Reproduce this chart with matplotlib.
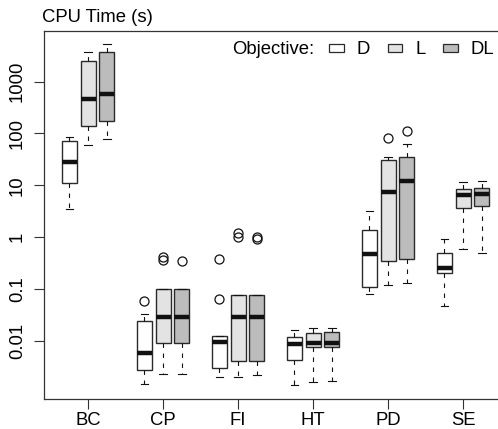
import matplotlib
matplotlib.use("Agg")
import matplotlib.pyplot as plt
from matplotlib.patches import Patch

plt.rcParams['font.family'] = ['Liberation Sans', 'DejaVu Sans']
plt.rcParams['font.size'] = 13.3

groups = ["BC", "CP", "FI", "HT", "PD", "SE"]
objectives = ["D", "L", "DL"]
fills = {"D": "#ffffff", "L": "#e3e3e3", "DL": "#bcbcbc"}

# five-number summaries: whislo, q1, med, q3, whishi
d_stats = [
    [3.5, 11, 27.6, 71, 86],
    [0.00145, 0.00267, 0.0057, 0.024, 0.032],
    [0.002, 0.0029, 0.0095, 0.0123, 0.0123],
    [0.00139, 0.0042, 0.0086, 0.0116, 0.0158],
    [0.079, 0.107, 0.48, 1.36, 3.2],
    [0.047, 0.2, 0.256, 0.5, 0.9],
]
d_fliers = [[], [0.058], [0.063, 0.37], [], [], []]

l_stats = [
    [60, 137, 461, 2460, 3780],
    [0.00224, 0.009, 0.029, 0.1, 0.1],
    [0.002, 0.0041, 0.029, 0.076, 0.076],
    [0.0016, 0.0076, 0.0091, 0.0142, 0.0178],
    [0.118, 0.34, 7.4, 30.6, 35.5],
    [0.6, 3.7, 6.4, 8.3, 11.4],
]
l_fliers = [[], [0.36, 0.41], [1.01, 1.18], [], [80], []]

dl_stats = [
    [77, 176, 577, 3780, 5250],
    [0.00224, 0.009, 0.029, 0.1, 0.1],
    [0.0022, 0.0041, 0.029, 0.076, 0.076],
    [0.00168, 0.0075, 0.0089, 0.0144, 0.0175],
    [0.128, 0.37, 12.2, 35.5, 62],
    [0.5, 4.0, 6.7, 8.9, 11.9],
]
dl_fliers = [[], [0.35], [0.9, 1.01], [], [111], []]

ytick_vals = [0.01, 0.1, 1, 10, 100, 1000]
ytick_labels = ["0.01", "0.1", "1", "10", "100", "1000"]

all_stats = {"D": (d_stats, d_fliers), "L": (l_stats, l_fliers), "DL": (dl_stats, dl_fliers)}
offsets = {"D": -0.25, "L": 0.0, "DL": 0.25}

fig = plt.figure(figsize=(4.98, 4.29), dpi=100)
ax = fig.add_axes([0.0884, 0.0699, 0.93, 0.8578])

edge = "#2a2a2a"
for obj in objectives:
    stats, fliers = all_stats[obj]
    bx = []
    for s, f in zip(stats, fliers):
        bx.append(dict(whislo=s[0], q1=s[1], med=s[2], q3=s[3], whishi=s[4], fliers=f))
    pos = [i + 1 + offsets[obj] for i in range(len(groups))]
    ax.bxp(bx, positions=pos, widths=0.2, patch_artist=True, showfliers=True,
           capwidths=0.1, manage_ticks=False,
           boxprops=dict(facecolor=fills[obj], edgecolor=edge, linewidth=1.0),
           medianprops=dict(color="#111111", linewidth=3.2, solid_capstyle="butt"),
           whiskerprops=dict(color="#111111", linewidth=0.8, linestyle=(0, (4, 5))),
           capprops=dict(color="#111111", linewidth=0.8),
           flierprops=dict(marker="o", markerfacecolor="none", markeredgecolor="#111111",
                           markersize=6.5, markeredgewidth=0.9))

ax.set_yscale("log")
ax.set_ylim(0.000746, 9480)
ax.set_xlim(0.413, 6.587)
ax.set_yticks(ytick_vals)
ax.set_yticklabels(ytick_labels, rotation=90, va="center")
ax.minorticks_off()
ax.set_xticks(range(1, len(groups) + 1))
ax.set_xticklabels(groups)
ax.tick_params(axis="both", length=7, width=0.8, color="#333333")
ax.tick_params(axis="y", pad=6)
ax.tick_params(axis="x", pad=2.5)
for sp in ax.spines.values():
    sp.set_linewidth(0.9)
    sp.set_color("#333333")

fig.text(42 / 498, 1 - 18 / 429, "CPU Time (s)", ha="left", va="center")
fig.text(232 / 498, 1 - 50 / 429, "Objective:", ha="left", va="center")

handles = [Patch(facecolor=fills[o], edgecolor=edge, linewidth=0.9) for o in objectives]
fig.legend(handles, objectives, loc="center left", bbox_to_anchor=(329 / 498, 1 - 50 / 429),
           ncol=3, frameon=False, borderpad=0, borderaxespad=0, handlelength=0.8,
           handleheight=0.35, handletextpad=0.7, columnspacing=0.95)

fig.savefig("out.png", dpi=100)
